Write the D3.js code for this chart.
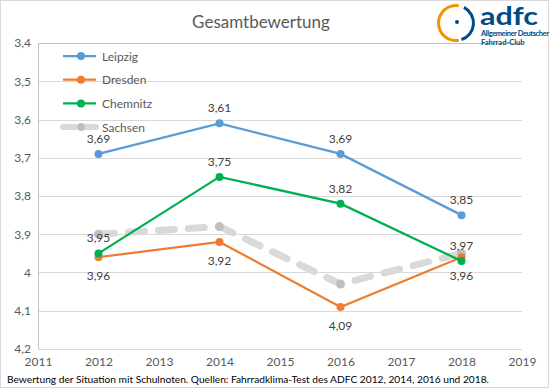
<!DOCTYPE html>
<html>
<head>
<meta charset="utf-8">
<script src="https://cdn.jsdelivr.net/npm/d3@7"></script>
<style>
  body { margin: 0; background: #fff; }
  text { font-family: Lato, "Open Sans", sans-serif; }
</style>
</head>
<body>
<div id="chart"></div>
<script>
// Data (Schulnoten, lower is better)
const years = [2012, 2014, 2016, 2018];
const leipzig = [3.69, 3.61, 3.69, 3.85];
const dresden = [3.96, 3.92, 4.09, 3.96];
const chemnitz = [3.95, 3.75, 3.82, 3.97];
const sachsen = [3.90, 3.88, 4.03, 3.95];
const yTicks = [3.4, 3.5, 3.6, 3.7, 3.8, 3.9, 4.0, 4.1, 4.2];
const xTicks = [2011, 2012, 2013, 2014, 2015, 2016, 2017, 2018, 2019];

const series = [
  { name: "Leipzig", values: leipzig, color: "#5b9bd5", labelPos: "above" },
  { name: "Dresden", values: dresden, color: "#ed7d31", labelPos: "below" },
  { name: "Chemnitz", values: chemnitz, color: "#00b050", labelPos: "above" }
];

const width = 554;
const height = 391;

const svg = d3.select("#chart")
  .append("svg")
  .attr("width", width)
  .attr("height", height);

// outer chart border
svg.append("rect")
  .attr("x", 0.5).attr("y", 0.5)
  .attr("width", 548).attr("height", 387)
  .attr("fill", "#fff")
  .attr("stroke", "#d9d9d9");

// Scales (y axis reversed: 3,4 on top)
const x = d3.scaleLinear().domain([2011, 2019]).range([38, 522]);
const y = d3.scaleLinear().domain([3.4, 4.2]).range([43, 349]);
const fmt = d => d3.format(".2f")(d).replace(".", ",");
const fmtTick = d => String(+d.toFixed(1)).replace(".", ",");

// gridlines
svg.append("g")
  .selectAll("line")
  .data(yTicks)
  .join("line")
  .attr("x1", x(2011)).attr("x2", x(2019))
  .attr("y1", d => Math.round(y(d)) + 0.5)
  .attr("y2", d => Math.round(y(d)) + 0.5)
  .attr("stroke", "#d9d9d9");

// axis lines (left and top, because the value axis is reversed)
svg.append("line")
  .attr("x1", x(2011) + 0.5).attr("x2", x(2011) + 0.5)
  .attr("y1", y(3.4)).attr("y2", y(4.2))
  .attr("stroke", "#bfbfbf");
svg.append("line")
  .attr("x1", x(2011)).attr("x2", x(2019))
  .attr("y1", Math.round(y(3.4)) + 0.5).attr("y2", Math.round(y(3.4)) + 0.5)
  .attr("stroke", "#bfbfbf");

// y axis labels
const yAxis = d3.axisLeft(y).tickValues(yTicks).tickSize(0).tickPadding(0).tickFormat(fmtTick);
svg.append("g")
  .attr("transform", "translate(31,0)")
  .call(yAxis)
  .call(g => g.select(".domain").remove())
  .call(g => g.selectAll("text")
    .attr("font-size", 12)
    .attr("fill", "#595959")
    .attr("font-family", "Lato, sans-serif"));

// x axis labels
const xAxis = d3.axisBottom(x).tickValues(xTicks).tickSize(0).tickPadding(0).tickFormat(d3.format("d"));
svg.append("g")
  .attr("transform", "translate(0,357)")
  .call(xAxis)
  .call(g => g.select(".domain").remove())
  .call(g => g.selectAll("text")
    .attr("font-size", 12)
    .attr("fill", "#595959")
    .attr("font-family", "Lato, sans-serif"));

// Sachsen: thick grey dashed line
const line = d3.line()
  .x((d, i) => x(years[i]))
  .y(d => y(d));

svg.append("path")
  .datum(sachsen)
  .attr("fill", "none")
  .attr("stroke", "#d9d9d9")
  .attr("stroke-width", 7)
  .attr("stroke-linecap", "round")
  .attr("stroke-dasharray", "16,14")
  .attr("d", line);

svg.append("g")
  .selectAll("circle")
  .data(sachsen)
  .join("circle")
  .attr("cx", (d, i) => x(years[i]))
  .attr("cy", d => y(d))
  .attr("r", 4.5)
  .attr("fill", "#bfbfbf");

// other series
series.forEach(s => {
  svg.append("path")
    .datum(s.values)
    .attr("fill", "none")
    .attr("stroke", s.color)
    .attr("stroke-width", 2.25)
    .attr("d", line);

  svg.append("g")
    .selectAll("circle")
    .data(s.values)
    .join("circle")
    .attr("cx", (d, i) => x(years[i]))
    .attr("cy", d => y(d))
    .attr("r", 4)
    .attr("fill", s.color);

  svg.append("g")
    .selectAll("text")
    .data(s.values)
    .join("text")
    .attr("x", (d, i) => x(years[i]))
    .attr("y", d => s.labelPos === "above" ? y(d) - 11 : y(d) + 23)
    .attr("text-anchor", "middle")
    .attr("font-size", 12)
    .attr("fill", "#404040")
    .text(d => fmt(d));
});

// legend
const legendItems = [
  { name: "Leipzig", color: "#5b9bd5", marker: "#5b9bd5", dashed: false },
  { name: "Dresden", color: "#ed7d31", marker: "#ed7d31", dashed: false },
  { name: "Chemnitz", color: "#00b050", marker: "#00b050", dashed: false },
  { name: "Sachsen", color: "#d9d9d9", marker: "#bfbfbf", dashed: true }
];
const legend = svg.append("g").attr("transform", "translate(63,56)");
legendItems.forEach((item, i) => {
  const g = legend.append("g").attr("transform", `translate(0,${i * 23.7})`);
  g.append("line")
    .attr("x1", 0).attr("x2", 33)
    .attr("stroke", item.color)
    .attr("stroke-width", item.dashed ? 6 : 2.25)
    .attr("stroke-linecap", item.dashed ? "round" : "butt")
    .attr("stroke-dasharray", item.dashed ? "12,10" : null);
  g.append("circle").attr("cx", 18).attr("r", 4).attr("fill", item.marker);
  g.append("text")
    .attr("x", 39).attr("y", 4.5)
    .attr("font-size", 12)
    .attr("fill", "#595959")
    .text(item.name);
});

// title
svg.append("text")
  .attr("x", 261).attr("y", 28)
  .attr("text-anchor", "middle")
  .attr("font-size", 17)
  .attr("fill", "#595959")
  .text("Gesamtbewertung");

// footer note
svg.append("text")
  .attr("x", 7).attr("y", 383)
  .attr("font-size", 10.2)
  .attr("fill", "#000")
  .text("Bewertung der Situation mit Schulnoten. Quellen: Fahrradklima-Test des ADFC 2012, 2014, 2016 und 2018.");

// adfc logo
const logo = svg.append("g");
const arc = d3.arc().innerRadius(16).outerRadius(19);
logo.append("path")
  .attr("transform", "translate(456,23)")
  .attr("d", arc({ startAngle: -Math.PI * 1.05, endAngle: Math.PI * 0.05 }))
  .attr("fill", "#f39200");
logo.append("path")
  .attr("transform", "translate(456,23)")
  .attr("d", arc({ startAngle: Math.PI * 0.15, endAngle: Math.PI * 0.9 }))
  .attr("fill", "#004b87");
logo.append("circle").attr("cx", 457).attr("cy", 22).attr("r", 2).attr("fill", "#004b87");
logo.append("text")
  .attr("x", 480).attr("y", 25)
  .attr("font-size", 24)
  .attr("font-weight", "bold")
  .attr("fill", "#004b87")
  .attr("font-family", "Roboto, sans-serif")
  .attr("textLength", 58)
  .attr("lengthAdjust", "spacingAndGlyphs")
  .text("adfc");
logo.append("text")
  .attr("x", 481).attr("y", 36)
  .attr("font-size", 7.5)
  .attr("font-weight", "bold")
  .attr("fill", "#004b87")
  .attr("font-family", "Roboto, sans-serif")
  .attr("textLength", 68)
  .text("Allgemeiner Deutscher");
logo.append("text")
  .attr("x", 481).attr("y", 45)
  .attr("font-size", 7.5)
  .attr("font-weight", "bold")
  .attr("fill", "#004b87")
  .attr("font-family", "Roboto, sans-serif")
  .text("Fahrrad-Club");
</script>
</body>
</html>
